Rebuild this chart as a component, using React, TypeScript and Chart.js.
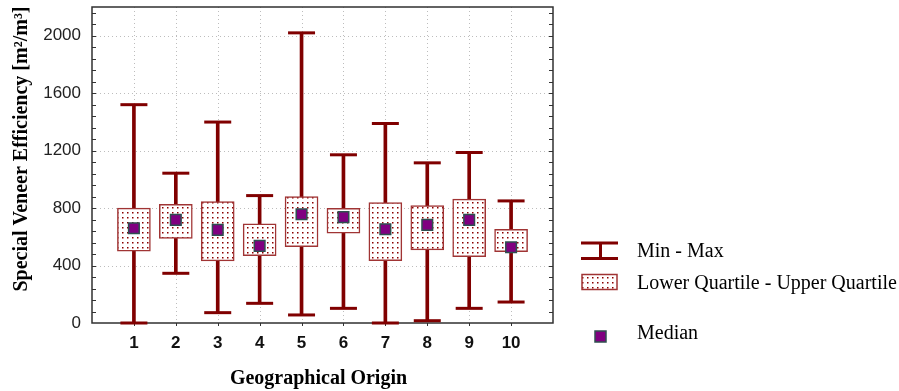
import React, { useEffect, useRef } from 'react';
import { Chart, registerables } from 'chart.js';

Chart.register(...registerables);

const categories = [1, 2, 3, 4, 5, 6, 7, 8, 9, 10];
const categoryLabels = ['1', '2', '3', '4', '5', '6', '7', '8', '9', '10'];
const minValues = [0, 346, 72, 137, 56, 102, 0, 16, 102, 146];
const maxValues = [1520, 1043, 1399, 887, 2020, 1171, 1389, 1115, 1187, 850];
const lowerQuartiles = [500, 588, 432, 469, 532, 625, 434, 509, 462, 497];
const upperQuartiles = [800, 827, 845, 690, 880, 799, 838, 817, 862, 653];
const medians = [660, 718, 648, 537, 757, 737, 653, 683, 718, 527];
const yGridValues = [400, 800, 1200, 1600, 2000];
const legendLabels = ['Min - Max', 'Lower Quartile - Upper Quartile', 'Median'];
const xTitle = 'Geographical Origin';
const yTitle = 'Special Veneer Efficiency [m\u00B2/m\u00B3]';

const WHISKER = '#800000';
const BOX_BORDER = '#a03434';
const MEDIAN_FILL = '#800080';
const MEDIAN_BORDER = '#2f4f4f';

function makePattern(): CanvasPattern | string {
  const c = document.createElement('canvas');
  c.width = 5;
  c.height = 5;
  const g = c.getContext('2d');
  if (!g) return '#fff';
  g.fillStyle = '#ffffff';
  g.fillRect(0, 0, 5, 5);
  g.fillStyle = '#8b0000';
  g.fillRect(2, 2, 1.5, 1.5);
  const p = g.createPattern(c, 'repeat');
  return p || '#fff';
}

export default function App() {
  const ref = useRef<HTMLCanvasElement | null>(null);

  useEffect(() => {
    const canvas = ref.current;
    if (!canvas) return;
    const pattern = makePattern();

    const decor = {
      id: 'decor',
      beforeDatasetsDraw(chart: any) {
        const { ctx, chartArea: a, scales } = chart;
        const x = scales.x;
        const y = scales.y;
        ctx.save();
        ctx.strokeStyle = '#bdbdbd';
        ctx.lineWidth = 1;
        ctx.setLineDash([1, 3]);
        for (const v of yGridValues) {
          const py = Math.round(y.getPixelForValue(v)) + 0.5;
          ctx.beginPath();
          ctx.moveTo(a.left, py);
          ctx.lineTo(a.right, py);
          ctx.stroke();
        }
        for (const c of categories) {
          const px = Math.round(x.getPixelForValue(c)) + 0.5;
          ctx.beginPath();
          ctx.moveTo(px, a.top);
          ctx.lineTo(px, a.bottom);
          ctx.stroke();
        }
        ctx.setLineDash([]);
        ctx.strokeStyle = '#333';
        ctx.lineWidth = 1;
        for (let v = 80; v < y.max; v += 80) {
          const py = Math.round(y.getPixelForValue(v)) + 0.5;
          ctx.beginPath();
          ctx.moveTo(a.left, py);
          ctx.lineTo(a.left + 4, py);
          ctx.moveTo(a.right - 4, py);
          ctx.lineTo(a.right, py);
          ctx.stroke();
        }
        for (const c of categories) {
          const px = Math.round(x.getPixelForValue(c)) + 0.5;
          ctx.beginPath();
          ctx.moveTo(px, a.bottom);
          ctx.lineTo(px, a.bottom + 3);
          ctx.stroke();
        }
        ctx.strokeStyle = '#303030';
        ctx.lineWidth = 1.5;
        ctx.strokeRect(a.left, a.top, a.right - a.left, a.bottom - a.top);
        ctx.restore();
      },
      afterDraw(chart: any) {
        const { ctx, chartArea: a } = chart;
        ctx.save();
        ctx.fillStyle = '#000';
        ctx.font = 'bold 20px "Liberation Serif"';
        ctx.textAlign = 'center';
        ctx.textBaseline = 'middle';
        ctx.fillText(xTitle, (a.left + a.right) / 2 - 4, 379);
        ctx.save();
        ctx.translate(22, 149);
        ctx.rotate(-Math.PI / 2);
        ctx.fillText(yTitle, 0, 0);
        ctx.restore();

        const lx = 581;
        ctx.strokeStyle = WHISKER;
        ctx.lineWidth = 3;
        ctx.beginPath();
        ctx.moveTo(lx, 243);
        ctx.lineTo(lx + 37, 243);
        ctx.moveTo(lx, 258.5);
        ctx.lineTo(lx + 37, 258.5);
        ctx.moveTo(lx + 19.5, 243);
        ctx.lineTo(lx + 19.5, 258.5);
        ctx.stroke();
        ctx.fillStyle = pattern as any;
        ctx.fillRect(lx + 1, 274.5, 35, 15);
        ctx.strokeStyle = BOX_BORDER;
        ctx.lineWidth = 1.5;
        ctx.strokeRect(lx + 1, 274.5, 35, 15);
        ctx.fillStyle = MEDIAN_FILL;
        ctx.fillRect(595, 331, 11, 11);
        ctx.strokeStyle = MEDIAN_BORDER;
        ctx.lineWidth = 1.5;
        ctx.strokeRect(595, 331, 11, 11);

        ctx.fillStyle = '#000';
        ctx.font = '20px "Liberation Serif"';
        ctx.textAlign = 'left';
        ctx.textBaseline = 'middle';
        ctx.fillText(legendLabels[0], 637, 252);
        ctx.fillText(legendLabels[1], 637, 284);
        ctx.fillText(legendLabels[2], 637, 334);
        ctx.restore();
      },
    };

    const chart = new Chart(canvas, {
      type: 'bar',
      data: {
        datasets: [
          {
            type: 'bar',
            label: 'Min - Max',
            data: categories.map((c, i) => ({ x: c, y: [minValues[i], maxValues[i]] })) as any,
            backgroundColor: WHISKER,
            borderWidth: 0,
            barThickness: 3,
            grouped: false,
            order: 4,
            clip: 10,
          } as any,
          {
            type: 'bar',
            label: 'Lower Quartile - Upper Quartile',
            data: categories.map((c, i) => ({ x: c, y: [lowerQuartiles[i], upperQuartiles[i]] })) as any,
            backgroundColor: pattern as any,
            borderColor: BOX_BORDER,
            borderWidth: 1.5,
            borderSkipped: false,
            barThickness: 33,
            grouped: false,
            order: 3,
            clip: 10,
          } as any,
          {
            type: 'scatter',
            label: 'caps',
            data: [
              ...categories.map((c, i) => ({ x: c, y: minValues[i] })),
              ...categories.map((c, i) => ({ x: c, y: maxValues[i] })),
            ],
            pointStyle: 'line',
            pointRadius: 13.5,
            borderColor: WHISKER,
            borderWidth: 3,
            order: 2,
            clip: 10,
          } as any,
          {
            type: 'scatter',
            label: 'Median',
            data: categories.map((c, i) => ({ x: c, y: medians[i] })),
            pointStyle: 'rect',
            pointRadius: 7.5,
            backgroundColor: MEDIAN_FILL,
            borderColor: MEDIAN_BORDER,
            borderWidth: 1.5,
            order: 1,
            clip: 10,
          } as any,
        ],
      },
      options: {
        responsive: false,
        animation: false,
        devicePixelRatio: 1,
        layout: { autoPadding: false, padding: { top: 7, right: 346, bottom: 0, left: 0 } },
        plugins: { legend: { display: false }, tooltip: { enabled: false } },
        scales: {
          x: {
            type: 'linear',
            min: 0,
            max: 11,
            offset: false,
            grid: { display: false, drawTicks: false },
            border: { display: false },
            afterFit: (s: any) => {
              s.height = 68;
              s.paddingLeft = 0;
              s.paddingRight = 0;
            },
            ticks: {
              stepSize: 1,
              autoSkip: false,
              maxRotation: 0,
              padding: 10,
              color: '#111',
              font: { family: '"Liberation Sans", Arial, sans-serif', size: 17, weight: 'bold' },
              callback: (v: any) => {
                const idx = categories.indexOf(Number(v));
                return idx >= 0 ? categoryLabels[idx] : '';
              },
            },
          },
          y: {
            type: 'linear',
            min: 0,
            max: 2200,
            grid: { display: false, drawTicks: false },
            border: { display: false },
            afterFit: (s: any) => {
              s.width = 92;
              s.paddingTop = 0;
              s.paddingBottom = 0;
            },
            ticks: {
              stepSize: 400,
              includeBounds: false,
              padding: 11,
              color: '#222',
              font: { family: '"Liberation Sans", Arial, sans-serif', size: 17 },
              callback: (v: any) => String(v),
            },
          },
        },
      } as any,
      plugins: [decor],
    });
    return () => chart.destroy();
  }, []);

  return (
    <div style={{ position: 'absolute', left: 0, top: 0, width: 899, height: 391, background: '#fff' }}>
      <canvas ref={ref} width={899} height={391} style={{ display: 'block' }} />
    </div>
  );
}
